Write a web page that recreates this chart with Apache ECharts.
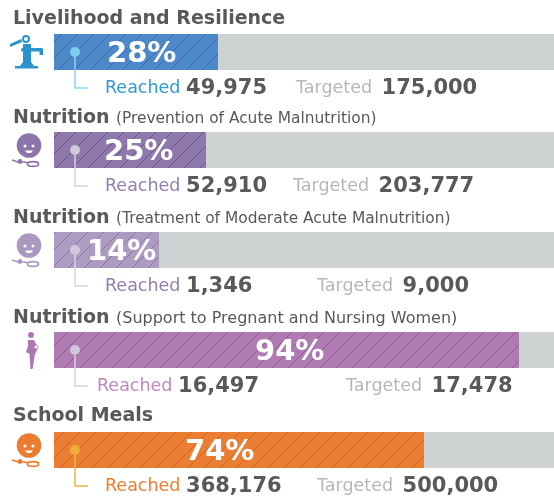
<!DOCTYPE html>
<html>
<head>
<meta charset="utf-8">
<style>html,body{margin:0;background:#fff}#main{width:554px;height:502px}</style>
<script src="https://cdn.jsdelivr.net/npm/echarts@6/dist/echarts.min.js"></script>
</head>
<body>
<div id="main"></div>
<script>
// values
const titles = ["Livelihood and Resilience", "Nutrition", "Nutrition", "Nutrition", "School Meals"];
const subtitles = ["", "(Prevention of Acute Malnutrition)", "(Treatment of Moderate Acute Malnutrition)", "(Support to Pregnant and Nursing Women)", ""];
const percentLabels = ["28%", "25%", "14%", "94%", "74%"];
const barValues = [32.8, 30.4, 21, 93, 74];
const reached = ["49,975", "52,910", "1,346", "16,497", "368,176"];
const targeted = ["175,000", "203,777", "9,000", "17,478", "500,000"];

// layout, one row per bar
const barTops = [34, 132, 232, 332, 432];
const titleTops = [9, 108, 208, 308, 406];
const subtitleSizes = [15.4, 15.4, 15.4, 16, 15.4];
const labelX = [53, 50, 33, 201, 131];
const reachedX = [105, 105, 105, 97, 105];
const targetedX = [296, 293, 317, 346, 317];
const textTops = [78, 176, 276, 376, 476];
const barColors = ["#4d88c8", "#8f78ab", "#ad9bc2", "#b07ab2", "#ea7f33"];
const stripeColors = ["#3a6db0", "#6c5689", "#8a77a3", "#905a95", "#d5651f"];
const dotColors = ["#7fcdee", "#cfc8dc", "#cfc8dc", "#cfc8dc", "#eeb03a"];
const lineColors = ["#8fd3f0", "#d9d3e4", "#d9d3e4", "#d9d3e4", "#f0b23c"];
const reachedColors = ["#2f9bd0", "#9480b0", "#9480b0", "#c088c0", "#ec8034"];
const iconColors = ["#2a93cc", "#8d75a9", "#ab98c0", "#ae76b0", "#ea7d30"];
const FONT = "DejaVu Sans";
const DARK = "#58595b";

function stripe(bg, fg) {
  const size = 16;
  const c = document.createElement("canvas");
  c.width = c.height = size;
  const g = c.getContext("2d");
  g.fillStyle = bg;
  g.fillRect(0, 0, size, size);
  g.strokeStyle = fg;
  g.lineWidth = 1;
  g.beginPath();
  g.moveTo(-2, size + 2); g.lineTo(size + 2, -2);
  g.moveTo(-4, 4); g.lineTo(4, -4);
  g.moveTo(size - 4, size + 4); g.lineTo(size + 4, size - 4);
  g.stroke();
  return { image: c, repeat: "repeat" };
}

function faceIcon(top, color) {
  return {
    type: "group", x: 29, y: top, silent: true,
    children: [
      { type: "circle", shape: { cx: 0, cy: 13.5, r: 12.3 }, style: { fill: color } },
      { type: "circle", shape: { cx: -4, cy: 14, r: 1.5 }, style: { fill: "#fff" } },
      { type: "circle", shape: { cx: 4, cy: 14, r: 1.5 }, style: { fill: "#fff" } },
      { type: "polygon", shape: { points: [[-4, 18.5], [4, 18.5], [2, 21], [-2, 21]] }, style: { fill: "#fff" } },
      { type: "polyline", shape: { points: [[-17, 28], [-11, 30], [-5, 30], [0, 31]] }, style: { stroke: color, fill: null, lineWidth: 1.5 } },
      { type: "circle", shape: { cx: -9, cy: 29.5, r: 2.4 }, style: { fill: color } },
      { type: "ellipse", shape: { cx: 4, cy: 32, rx: 5.5, ry: 2.4 }, style: { stroke: color, fill: "#fff", lineWidth: 1.8 } }
    ]
  };
}

function pumpIcon(color) {
  return {
    type: "group", silent: true,
    children: [
      { type: "polygon", shape: { points: [[10, 44], [21, 39], [22, 42], [10, 47]] }, style: { fill: color } },
      { type: "circle", shape: { cx: 26, cy: 39, r: 3 }, style: { fill: "#fff", stroke: color, lineWidth: 2 } },
      { type: "rect", shape: { x: 21, y: 48, width: 22, height: 3.5, r: 1.5 }, style: { fill: color } },
      { type: "rect", shape: { x: 39.5, y: 49, width: 3.5, height: 6 }, style: { fill: color } },
      { type: "polygon", shape: { points: [[23, 44], [31, 44], [31, 62], [34, 66], [20, 66], [23, 62]] }, style: { fill: color } },
      { type: "rect", shape: { x: 15, y: 66, width: 23, height: 2.5 }, style: { fill: color } }
    ]
  };
}

function womanIcon(color) {
  return {
    type: "group", silent: true,
    children: [
      { type: "circle", shape: { cx: 31, cy: 335, r: 3 }, style: { fill: color } },
      { type: "polygon", shape: { points: [[28, 340], [34, 340], [36, 344], [38.5, 347], [35, 354], [32.5, 369], [30.5, 369], [29.5, 354], [26, 352], [28, 346]] }, style: { fill: color } },
      { type: "circle", shape: { cx: 36, cy: 347, r: 1.6 }, style: { fill: "#fff" } }
    ]
  };
}

const grid = [], xAxis = [], yAxis = [], series = [], graphic = [];

barValues.forEach((v, i) => {
  grid.push({ left: 54, width: 500, top: barTops[i], height: 36 });
  xAxis.push({ gridIndex: i, type: "value", min: 0, max: 100, show: false });
  yAxis.push({ gridIndex: i, type: "category", data: [titles[i]], show: false });
  series.push({
    type: "bar", xAxisIndex: i, yAxisIndex: i, barWidth: 36, silent: true, animation: false,
    data: [v],
    showBackground: true,
    backgroundStyle: { color: "#cfd2d3" },
    itemStyle: { color: stripe(barColors[i], stripeColors[i]) },
    label: {
      show: true, position: [labelX[i], 20], verticalAlign: "middle",
      formatter: percentLabels[i],
      color: "#fff", fontFamily: FONT, fontWeight: "bold", fontSize: 29
    }
  });

  graphic.push({
    type: "text", left: 13, top: titleTops[i] + 1, silent: true,
    style: { text: titles[i], fontFamily: FONT, fontWeight: "bold", fontSize: 19, fill: DARK }
  });
  if (subtitles[i]) {
    graphic.push({
      type: "text", left: 116, top: titleTops[i] + 3, silent: true,
      style: { text: subtitles[i], fontFamily: FONT, fontSize: subtitleSizes[i], fill: DARK }
    });
  }
  graphic.push({
    type: "text", left: reachedX[i], top: textTops[i], silent: true,
    style: {
      rich: {
        a: { fontFamily: FONT, fontSize: 17.5, fill: reachedColors[i] },
        b: { fontFamily: FONT, fontWeight: "bold", fontSize: 21, fill: DARK }
      },
      text: "{a|Reached }{b|" + reached[i] + "}"
    }
  });
  graphic.push({
    type: "text", left: targetedX[i], top: textTops[i], silent: true,
    style: {
      rich: {
        a: { fontFamily: FONT, fontSize: 17.5, fill: "#b5b7b9" },
        b: { fontFamily: FONT, fontWeight: "bold", fontSize: 21, fill: DARK, padding: [0, 0, 0, 4] }
      },
      text: "{a|Targeted }{b|" + targeted[i] + "}"
    }
  });

  // leader from the dot to the Reached label
  const dotY = barTops[i] + 18;
  graphic.push({
    type: "polyline", silent: true, z: 10,
    shape: { points: [[75, dotY], [75, dotY + 36], [88, dotY + 36]] },
    style: { stroke: lineColors[i], lineWidth: 1.5, fill: null }
  });
  graphic.push({
    type: "circle", silent: true, z: 11,
    shape: { cx: 75, cy: dotY, r: 5 },
    style: { fill: dotColors[i] }
  });

  if (i === 0) graphic.push(pumpIcon(iconColors[i]));
  else if (i === 3) graphic.push(womanIcon(iconColors[i]));
  else graphic.push(faceIcon(barTops[i], iconColors[i]));
});

const chart = echarts.init(document.getElementById("main"), null, { renderer: "canvas" });
chart.setOption({ animation: false, grid, xAxis, yAxis, series, graphic });
</script>
</body>
</html>
